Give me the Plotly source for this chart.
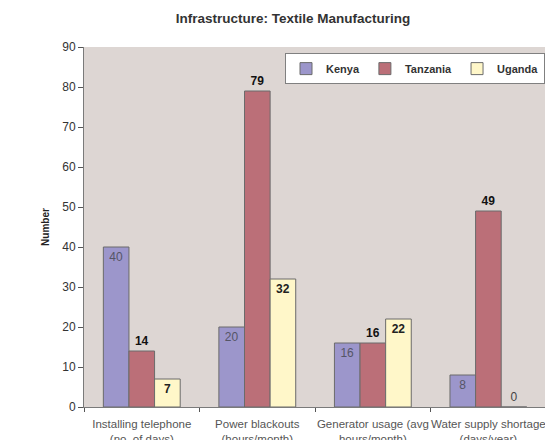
import plotly.graph_objects as go

# Infrastructure indicators for textile manufacturing firms
categories = [
    "Installing telephone<br>(no. of days)",
    "Power blackouts<br>(hours/month)",
    "Generator usage (avg<br>hours/month)",
    "Water supply shortage<br>(days/year)",
]
kenya = [40, 20, 16, 8]
tanzania = [14, 79, 16, 49]
uganda = [7, 32, 22, 0]
y_ticks = [0, 10, 20, 30, 40, 50, 60, 70, 80, 90]

FONT = "Liberation Sans, Arial, sans-serif"
EDGE = dict(color="#6b6b6b", width=1)

fig = go.Figure()

fig.add_trace(go.Bar(
    name="Kenya", x=categories, y=kenya,
    marker=dict(color="#9c96cb", line=EDGE),
    text=kenya, texttemplate="%{text}",
    textposition="inside", insidetextanchor="end", textangle=0,
    constraintext="none",
    insidetextfont=dict(family=FONT, size=12, color="#555566"),
))
fig.add_trace(go.Bar(
    name="Tanzania", x=categories, y=tanzania,
    marker=dict(color="#bb6f78", line=EDGE),
    text=tanzania, texttemplate="<b>%{text}</b>",
    textposition="outside", textangle=0, cliponaxis=False,
    outsidetextfont=dict(family=FONT, size=12, color="#111111"),
))
fig.add_trace(go.Bar(
    name="Uganda", x=categories, y=uganda,
    marker=dict(color="#fff7c9", line=EDGE),
    text=uganda,
    texttemplate=["<b>%{text}</b>"] * 3 + ["%{text}"],
    textposition=["inside", "inside", "inside", "outside"],
    insidetextanchor="end", textangle=0, constraintext="none",
    insidetextfont=dict(family=FONT, size=12, color="#222222"),
    outsidetextfont=dict(family=FONT, size=12, color="#444444"),
))

fig.update_layout(
    width=545, height=440,
    margin=dict(l=84, r=0, t=47, b=33, autoexpand=False),
    paper_bgcolor="white",
    plot_bgcolor="#ddd6d3",
    barmode="group",
    bargap=0.335,
    bargroupgap=0,
    font=dict(family=FONT, size=10, color="#333333"),
    title=dict(
        text="<b>Infrastructure: Textile Manufacturing</b>",
        font=dict(family=FONT, size=13.5, color="#333333"),
        x=0.5376, xref="container", xanchor="center",
        y=1 - 18 / 440, yref="container", yanchor="middle",
    ),
    legend=dict(
        orientation="h",
        x=1.0, xanchor="right",
        y=0.983, yanchor="top",
        bgcolor="white",
        bordercolor="#808080", borderwidth=1,
        font=dict(family=FONT, size=11, color="#333333", weight="bold"),
        itemwidth=30,
    ),
    showlegend=True,
)

fig.update_xaxes(
    range=[-0.5, 3.49],
    automargin=False,
    showline=True, linecolor="#7a7a7a", linewidth=1,
    ticks="outside", tickson="boundaries", ticklen=4, tickcolor="#555555",
    ticklabelstandoff=6,
    tickangle=0,
    tickfont=dict(family=FONT, size=11.5, color="#555555"),
    showgrid=False,
)
fig.update_yaxes(
    range=[0, 90],
    automargin=False,
    tickvals=y_ticks,
    showline=True, linecolor="#7a7a7a", linewidth=1,
    ticks="outside", ticklen=5, tickcolor="#555555",
    tickfont=dict(family=FONT, size=12, color="#333333"),
    showgrid=False, zeroline=False,
    title=dict(text="<b>Number</b>", font=dict(family=FONT, size=10, color="#222222"),
               standoff=10),
)

fig.write_html("out.html")
